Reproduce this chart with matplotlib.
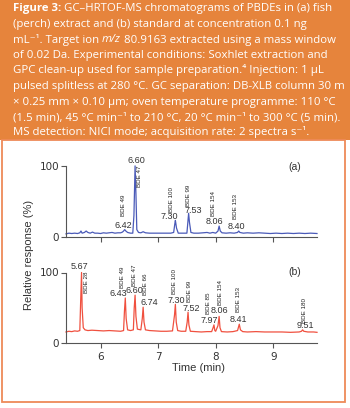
import matplotlib
matplotlib.use("Agg")
import matplotlib.pyplot as plt
from matplotlib.patches import Rectangle

# ---------------- data ----------------
caption_lines = [
    [("Figure 3:", "bold", "normal"), (" GC\u2013HRTOF-MS chromatograms of PBDEs in (a) fish", "normal", "normal")],
    [("(perch) extract and (b) standard at concentration 0.1 ng", "normal", "normal")],
    [("mL\u207b\u00b9. Target ion ", "normal", "normal"), ("m/z", "normal", "italic"), (" 80.9163 extracted using a mass window", "normal", "normal")],
    [("of 0.02 Da. Experimental conditions: Soxhlet extraction and", "normal", "normal")],
    [("GPC clean-up used for sample preparation.\u2074 Injection: 1 \u00b5L", "normal", "normal")],
    [("pulsed splitless at 280 \u00b0C. GC separation: DB-XLB column 30 m", "normal", "normal")],
    [("\u00d7 0.25 mm \u00d7 0.10 \u00b5m; oven temperature programme: 110 \u00b0C", "normal", "normal")],
    [("(1.5 min), 45 \u00b0C min\u207b\u00b9 to 210 \u00b0C, 20 \u00b0C min\u207b\u00b9 to 300 \u00b0C (5 min).", "normal", "normal")],
    [("MS detection: NICI mode; acquisition rate: 2 spectra s\u207b\u00b9.", "normal", "normal")],
]

time_a = [5.40, 5.45, 5.50, 5.55, 5.60, 5.64, 5.66, 5.68, 5.72, 5.75, 5.78, 5.82, 5.86, 5.90,
          5.95, 6.00, 6.05, 6.10, 6.15, 6.20, 6.25, 6.30, 6.35, 6.38, 6.40, 6.42, 6.44, 6.47,
          6.52, 6.56, 6.58, 6.60, 6.615, 6.63, 6.66, 6.70, 6.74, 6.78, 6.85, 6.95, 7.05, 7.15,
          7.22, 7.27, 7.29, 7.30, 7.32, 7.35, 7.40, 7.45, 7.50, 7.51, 7.53, 7.545, 7.57, 7.62,
          7.70, 7.78, 7.85, 7.90, 7.95, 8.00, 8.04, 8.06, 8.08, 8.11, 8.18, 8.25, 8.32, 8.38,
          8.40, 8.42, 8.48, 8.55, 8.65, 8.75, 8.85, 8.95, 9.05, 9.15, 9.25, 9.35, 9.45, 9.55,
          9.65, 9.76]
resp_a = [4.0, 5.0, 4.5, 5.0, 4.5, 5.5, 8.0, 5.0, 6.0, 8.0, 6.0, 5.0, 6.5, 5.0,
          5.0, 4.5, 5.5, 5.0, 5.5, 6.0, 5.0, 5.5, 5.5, 6.5, 8.0, 10.0, 8.0, 6.0,
          5.0, 5.0, 30.0, 100.0, 60.0, 10.0, 6.0, 5.5, 7.0, 5.5, 5.0, 5.0, 5.0, 5.0,
          5.0, 6.0, 18.0, 23.0, 12.0, 5.0, 5.0, 5.0, 5.0, 14.0, 33.0, 20.0, 6.0, 5.0,
          5.0, 5.5, 6.0, 5.0, 6.0, 5.0, 8.0, 15.0, 8.0, 5.5, 5.0, 5.5, 5.0, 6.0,
          8.0, 6.0, 5.0, 5.5, 5.0, 5.5, 5.0, 4.5, 5.0, 4.5, 5.0, 4.5, 5.0, 4.5,
          5.0, 4.5]

time_b = [5.40, 5.45, 5.50, 5.55, 5.60, 5.64, 5.655, 5.67, 5.68, 5.70, 5.73, 5.78, 5.85, 5.95,
          6.05, 6.15, 6.25, 6.35, 6.40, 6.415, 6.43, 6.445, 6.47, 6.52, 6.57, 6.585, 6.60, 6.615,
          6.64, 6.70, 6.725, 6.74, 6.755, 6.78, 6.85, 6.95, 7.05, 7.15, 7.25, 7.285, 7.30, 7.315,
          7.34, 7.40, 7.48, 7.505, 7.52, 7.535, 7.56, 7.65, 7.75, 7.85, 7.93, 7.955, 7.97, 7.985,
          8.00, 8.04, 8.06, 8.075, 8.10, 8.20, 8.30, 8.38, 8.41, 8.43, 8.47, 8.55, 8.70, 8.85,
          9.00, 9.15, 9.30, 9.45, 9.49, 9.51, 9.53, 9.60, 9.70, 9.76]
resp_b = [16.0, 17.0, 16.5, 17.5, 17.0, 18.0, 60.0, 100.0, 50.0, 22.0, 19.0, 18.0, 18.5, 18.0,
          17.5, 18.0, 17.5, 17.0, 18.0, 45.0, 64.0, 35.0, 19.0, 18.0, 19.0, 50.0, 68.0, 38.0,
          20.0, 19.0, 35.0, 51.0, 30.0, 19.0, 18.0, 17.5, 17.0, 17.0, 17.5, 40.0, 55.0, 30.0,
          18.0, 17.0, 17.0, 30.0, 44.0, 26.0, 17.0, 16.5, 16.0, 16.5, 16.5, 22.0, 26.0, 18.0,
          17.0, 25.0, 38.0, 22.0, 16.5, 16.0, 16.5, 18.0, 27.0, 19.0, 16.5, 16.0, 16.5, 16.0,
          16.0, 16.0, 15.5, 16.0, 17.0, 19.0, 17.0, 16.0, 16.0, 15.5]

# peak labels: retention-time text and compound name
rt_text_a = ["6.42", "6.60", "7.30", "7.53", "8.06", "8.40"]
names_a = ["BDE 49", "BDE 47", "BDE 100", "BDE 99", "BDE 154", "BDE 153"]
rt_text_b = ["5.67", "6.43", "6.60", "6.74", "7.30", "7.52", "7.97", "8.06", "8.41", "9.51"]
names_b = ["BDE 28", "BDE 49", "BDE 47", "BDE 66", "BDE 100", "BDE 99", "BDE 85",
           "BDE 154", "BDE 153", "BDE 180"]

x_ticks = [6, 7, 8, 9]
y_ticks = [0, 100]

# ---------------- layout (positions of labels) ----------------
num_pos_a = [(6.39, 16), (6.62, 108), (7.19, 29), (7.61, 37.5), (7.98, 22), (8.36, 15)]
name_pos_a = [(6.40, 44), (6.68, 86), (7.23, 52), (7.52, 59), (7.96, 47), (8.34, 43)]
num_pos_b = [(5.63, 108), (6.31, 71), (6.595, 74), (6.84, 57.5), (7.31, 60), (7.57, 48.6),
             (7.88, 31.5), (8.06, 45.8), (8.40, 33), (9.56, 25)]
name_pos_b = [(5.76, 86), (6.38, 93), (6.59, 96), (6.785, 84), (7.29, 87), (7.55, 73),
              (7.87, 57), (8.08, 72), (8.40, 62), (9.55, 47)]

W, H = 350, 408
fig = plt.figure(figsize=(W / 100, H / 100), dpi=100)
fig.patch.set_facecolor("white")

ORANGE = "#e6843c"
BORDER = "#ee8a58"
TEXTC = "#333333"
CAP_FONT = ["Open Sans", "DejaVu Sans"]
LAB_FONT = ["Liberation Sans", "DejaVu Sans"]
CAP_SIZE = 8.2

# caption background
fig.patches.append(Rectangle((0, 1 - 140 / H), 1, 140 / H, transform=fig.transFigure,
                             facecolor=ORANGE, edgecolor="none", zorder=-5))
# white panel with border
fig.patches.append(Rectangle((1.8 / W, 1 - 402 / H), 343.5 / W, 262 / H, transform=fig.transFigure,
                             facecolor="white", edgecolor=BORDER, linewidth=1.3, zorder=-5))

# caption text (segments are placed side by side after a first draw)
y0 = 11.5
dy = 15.5
cap_texts = []
for i, segs in enumerate(caption_lines):
    yb = 1 - (y0 + i * dy) / H
    for txt, wt, st in segs:
        cap_texts.append(fig.text(13 / W, yb, txt, color="white", fontsize=CAP_SIZE,
                                  fontweight=wt, fontstyle=st, family=CAP_FONT,
                                  va="baseline", ha="left"))


def make_ax(bottom_px, color, t, r, num_pos, name_pos, rt_text, names, tag, tag_y, xlabels):
    left = 66 / W
    width = 251 / W
    ppu = 0.708
    ylim = (0, 120)
    height = (ylim[1] - ylim[0]) * ppu / H
    ax = fig.add_axes([left, 1 - bottom_px / H, width, height])
    ax.set_facecolor("none")
    ax.plot(t, r, color=color, lw=0.9, clip_on=False)
    ax.set_xlim(5.40, 9.76)
    ax.set_ylim(*ylim)
    for s in ["top", "right"]:
        ax.spines[s].set_visible(False)
    ax.spines["left"].set_bounds(0, 100)
    for s in ["left", "bottom"]:
        ax.spines[s].set_color("#555555")
        ax.spines[s].set_linewidth(0.8)
    ax.set_xticks(x_ticks)
    ax.set_yticks(y_ticks)
    ax.tick_params(axis="both", direction="out", length=3.5, width=0.8, color="#555555",
                   labelsize=7.5, labelcolor=TEXTC, pad=1.5)
    ax.tick_params(axis="x", pad=3)
    if not xlabels:
        ax.set_xticklabels([])
    for (x, y), s in zip(num_pos, rt_text):
        ax.text(x, y, s, ha="center", va="center", fontsize=6.5, color=TEXTC,
                family=LAB_FONT)
    for (x, y), s in zip(name_pos, names):
        ax.text(x, y, s, ha="center", va="center", rotation=90, fontsize=4.5,
                color="#222222", family=LAB_FONT)
    fig.text(295 / W, 1 - tag_y / H, tag, ha="center", va="center", fontsize=7.5,
             color=TEXTC, family=LAB_FONT)
    return ax


ax_a = make_ax(236.7, "#4a5ab8", time_a, resp_a, num_pos_a, name_pos_a, rt_text_a, names_a,
               "(a)", 167, False)
ax_b = make_ax(343.3, "#f0503f", time_b, resp_b, num_pos_b, name_pos_b, rt_text_b, names_b,
               "(b)", 272, True)

fig.text(198 / W, 1 - 368 / H, "Time (min)", ha="center", va="center", fontsize=8,
         color=TEXTC, family=LAB_FONT)
fig.text(29 / W, 1 - 255 / H, "Relative response (%)", ha="center", va="center",
         rotation=90, fontsize=8, color=TEXTC, family=LAB_FONT)

# chain caption segments horizontally
fig.canvas.draw()
renderer = fig.canvas.get_renderer()
idx = 0
for i, segs in enumerate(caption_lines):
    yb = 1 - (y0 + i * dy) / H
    x = 13 / W
    for _ in segs:
        t = cap_texts[idx]
        t.set_position((x, yb))
        bb = t.get_window_extent(renderer)
        x = x + bb.width / W
        idx += 1

fig.savefig("out.png", dpi=100, facecolor=fig.get_facecolor())
